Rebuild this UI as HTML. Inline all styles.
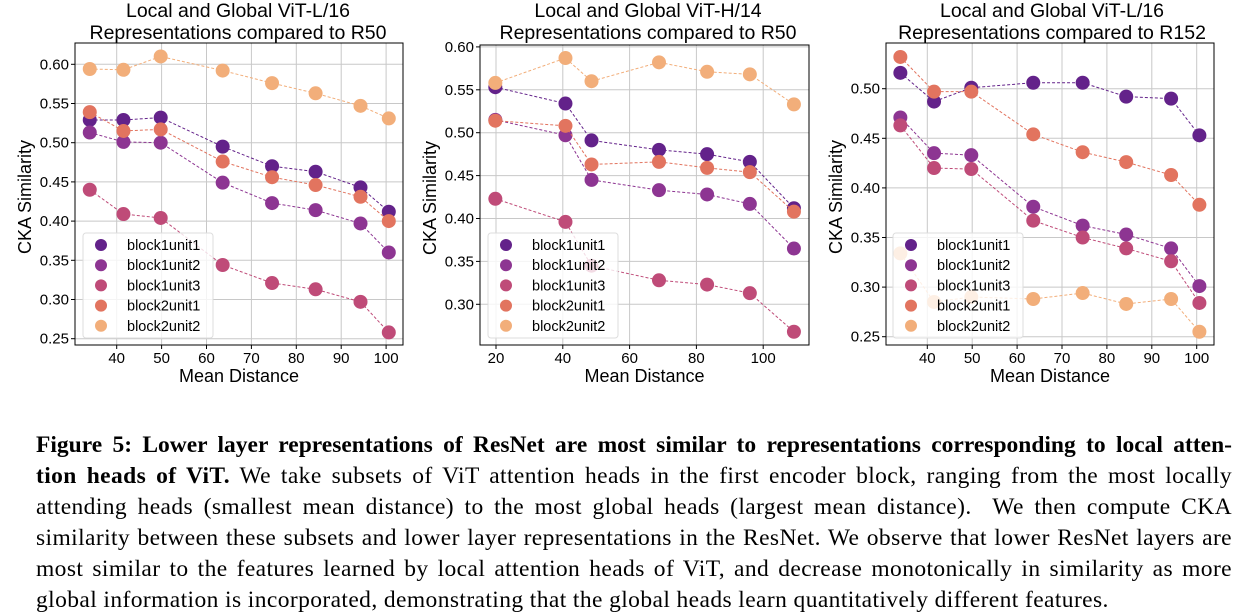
<!DOCTYPE html>
<html><head><meta charset="utf-8">
<style>
body{margin:0;width:1249px;height:611px;background:#fff;overflow:hidden;position:relative}
svg{position:absolute;left:0;top:0}
.cap{position:absolute;left:36px;width:1196px;font-family:"Liberation Serif",serif;font-size:23.5px;letter-spacing:0.4px;line-height:31px;white-space:nowrap;text-align:justify;text-align-last:justify;color:#000}
</style></head><body>
<svg id="fig" width="1249" height="400"></svg>
<div class="cap" style="top:430px;letter-spacing:0"><b>Figure 5: Lower layer representations of ResNet are most similar to representations corresponding to local atten-</b></div>
<div class="cap" style="top:461px"><b>tion heads of ViT.</b> We take subsets of ViT attention heads in the first encoder block, ranging from the most locally</div>
<div class="cap" style="top:492px">attending heads (smallest mean distance) to the most global heads (largest mean distance).&nbsp; We then compute CKA</div>
<div class="cap" style="top:523px">similarity between these subsets and lower layer representations in the ResNet. We observe that lower ResNet layers are</div>
<div class="cap" style="top:554px">most similar to the features learned by local attention heads of ViT, and decrease monotonically in similarity as more</div>
<div class="cap" style="top:585px;text-align-last:left">global information is incorporated, demonstrating that the global heads learn quantitatively different features.</div>
<script>
const seriesNames=["block1unit1","block1unit2","block1unit3","block2unit1","block2unit2"];
const colors=["#63228a","#8d3592","#bf4b78","#e2745f","#f2ae7a"];
const xA=[34,41.5,49.8,63.6,74.6,84.3,94.3,100.6];
const a1=[.529,.529,.532,.495,.470,.463,.443,.412];
const a2=[.513,.501,.500,.449,.423,.414,.397,.360];
const a3=[.440,.409,.404,.344,.321,.313,.297,.258];
const a4=[.539,.515,.517,.476,.456,.446,.431,.400];
const a5=[.594,.593,.610,.592,.576,.563,.547,.531];
const xB=[19.8,40.8,48.6,68.8,83.2,96,109.2];
const b1=[.553,.534,.491,.480,.475,.466,.412];
const b2=[.515,.497,.445,.433,.428,.417,.365];
const b3=[.423,.396,.345,.328,.323,.313,.268];
const b4=[.514,.508,.463,.466,.459,.454,.408];
const b5=[.558,.587,.560,.582,.571,.568,.533];
const c1=[.516,.487,.501,.506,.506,.492,.490,.453];
const c2=[.471,.435,.433,.381,.362,.353,.339,.301];
const c3=[.463,.420,.419,.367,.350,.339,.326,.284];
const c4=[.532,.497,.497,.454,.436,.426,.413,.383];
const c5=[.334,.285,.290,.288,.294,.283,.288,.255];
const xTicksA=[40,50,60,70,80,90,100];
const xTicksB=[20,40,60,80,100];
const yTicksA=[0.25,0.30,0.35,0.40,0.45,0.50,0.55,0.60];
const yTicksB=[0.30,0.35,0.40,0.45,0.50,0.55,0.60];
const yTicksC=[0.25,0.30,0.35,0.40,0.45,0.50];
const titlesA=["Local and Global ViT-L/16","Representations compared to R50"];
const titlesB=["Local and Global ViT-H/14","Representations compared to R50"];
const titlesC=["Local and Global ViT-L/16","Representations compared to R152"];

const NS="http://www.w3.org/2000/svg";
const svg=document.getElementById('fig');
function mk(tag,attrs,parent,txt){const e=document.createElementNS(NS,tag);for(const k in attrs)e.setAttribute(k,attrs[k]);if(txt!==undefined)e.textContent=txt;(parent||svg).appendChild(e);return e;}
const F='"Liberation Sans","DejaVu Sans",sans-serif';

function chart(cfg,id){
  const g=mk('g',{});
  
  
  const sx=v=>cfg.x0px+(v-cfg.x0)*cfg.xk;
  const sy=v=>cfg.y0px-(v-cfg.y0)*cfg.yk;
  const L=cfg.L,R=cfg.R,T=cfg.T,B=cfg.B;
  cfg.xt.forEach(t=>{const l=mk('line',{x1:sx(t),x2:sx(t),y1:T,y2:B,stroke:'#c8c8c8','stroke-width':1},g);
    const tx=mk('text',{x:sx(t),y:B+18,'text-anchor':'middle','font-size':15,'font-family':F},g,String(t));
    mk('line',{x1:sx(t),x2:sx(t),y1:B,y2:B+4,stroke:'#000'},g);});
  cfg.yt.forEach(t=>{const l=mk('line',{x1:L,x2:R,y1:sy(t),y2:sy(t),stroke:'#c8c8c8','stroke-width':1},g);
    const tx=mk('text',{x:L-6,y:sy(t)+5,'text-anchor':'end','font-size':15,'font-family':F},g,t.toFixed(2));
    mk('line',{x1:L-4,x2:L,y1:sy(t),y2:sy(t),stroke:'#000'},g);});
  cfg.s.forEach((ys,i)=>{
    const pts=ys.map((v,j)=>sx(cfg.x[j])+','+sy(v)).join(' ');
    const pl=mk('polyline',{points:pts,fill:'none',stroke:colors[i],'stroke-width':1,'stroke-dasharray':'3,2'},g);
    
    ys.forEach((v,j)=>{const c=mk('circle',{cx:sx(cfg.x[j]),cy:sy(v),r:7,fill:colors[i]},g);
      });
  });
  const fr=mk('rect',{x:L,y:T,width:R-L,height:B-T,fill:'none',stroke:'#000','stroke-width':1},g);
  
  const lg=mk('g',{},g);
  mk('rect',{x:cfg.lx,y:233,width:130,height:105,fill:'rgba(255,255,255,0.8)',stroke:'#ddd',rx:3},lg);
  seriesNames.forEach((n,i)=>{
    const e=mk('g',{},lg);
    mk('circle',{cx:cfg.lx+18,cy:245+i*20.2,r:6,fill:colors[i]},e);
    mk('text',{x:cfg.lx+44,y:250+i*20.2,'font-size':14.5,'font-family':F},e,n);
  });
  const cx=(L+R)/2;
  cfg.title.forEach((t,i)=>{const tt=mk('text',{x:cfg.tcx,y:17+i*22,'text-anchor':'middle','font-size':19.5,'font-family':F},g,t);});
  const xl=mk('text',{x:cx,y:382,'text-anchor':'middle','font-size':18,'font-family':F},g,'Mean Distance');
  const yl=mk('text',{x:0,y:0,'text-anchor':'middle','font-size':18,'font-family':F,transform:`translate(${cfg.ylx},${(T+B)/2+3}) rotate(-90)`},g,'CKA Similarity');
}
chart({L:75,R:403,T:43,B:345,x0:40,x0px:116.7,xk:4.49,y0:0.25,y0px:338.7,yk:784,x:xA,s:[a1,a2,a3,a4,a5],xt:xTicksA,yt:yTicksA,lx:83,title:titlesA,tcx:238,ylx:31},'vit-l16-r50');
chart({L:480,R:809,T:45,B:345,x0:20,x0px:496,xk:3.34,y0:0.30,y0px:304.3,yk:858,x:xB,s:[b1,b2,b3,b4,b5],xt:xTicksB,yt:yTicksB,lx:488,title:titlesB,tcx:648,ylx:436},'vit-h14-r50');
chart({L:886,R:1214,T:43,B:345,x0:40,x0px:927.3,xk:4.49,y0:0.25,y0px:336.7,yk:992,x:xA,s:[c1,c2,c3,c4,c5],xt:xTicksA,yt:yTicksC,lx:893,title:titlesC,tcx:1052,ylx:842},'vit-l16-r152');
</script>
</body></html>
